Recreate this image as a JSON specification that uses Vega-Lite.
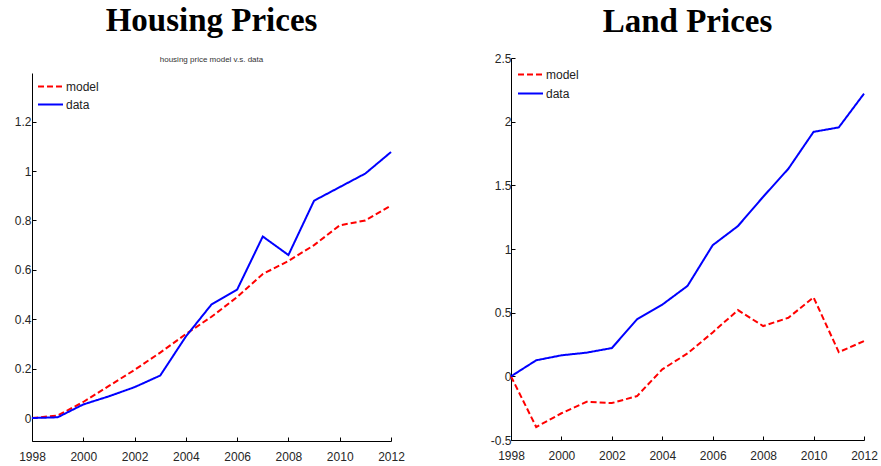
{
  "$schema": "https://vega.github.io/schema/vega-lite/v6.json",
  "background": "white",
  "padding": {"left": 14, "top": 5, "right": 0, "bottom": 0},
  "bounds": "flush",
  "spacing": 120,
  "config": {
    "view": {"stroke": null},
    "axis": {
      "grid": false,
      "domainColor": "black",
      "domainWidth": 1,
      "tickColor": "black",
      "tickSize": -4,
      "tickWidth": 1,
      "labelFont": "Liberation Sans",
      "labelFontSize": 12,
      "labelColor": "#262626",
      "title": null
    },
    "legend": {
      "orient": "none",
      "title": null,
      "padding": 0,
      "symbolType": "M-2,0L2,0",
      "symbolSize": 156.25,
      "symbolStrokeWidth": 2,
      "labelFont": "Liberation Sans",
      "labelFontSize": 12,
      "labelColor": "#222222",
      "labelOffset": 8
    }
  },
  "resolve": {
    "scale": {"color": "independent", "strokeDash": "independent"},
    "legend": {"color": "independent", "strokeDash": "independent"}
  },
  "hconcat": [
    {
      "width": 359,
      "height": 383,
      "title": {
        "text": "Housing Prices",
        "subtitle": "housing price model v.s. data",
        "font": "Liberation Serif",
        "fontSize": 33,
        "fontWeight": "bold",
        "color": "black",
        "subtitleFont": "Liberation Sans",
        "subtitleFontSize": 8,
        "subtitleColor": "#333333",
        "subtitlePadding": 18,
        "offset": -6,
        "anchor": "middle"
      },
      "data": {
        "values": [
          {"year": 1998, "series": "model", "value": 0},
          {"year": 1999, "series": "model", "value": 0.01},
          {"year": 2000, "series": "model", "value": 0.065},
          {"year": 2001, "series": "model", "value": 0.13},
          {"year": 2002, "series": "model", "value": 0.195},
          {"year": 2003, "series": "model", "value": 0.265},
          {"year": 2004, "series": "model", "value": 0.34},
          {"year": 2005, "series": "model", "value": 0.41},
          {"year": 2006, "series": "model", "value": 0.49},
          {"year": 2007, "series": "model", "value": 0.583},
          {"year": 2008, "series": "model", "value": 0.636},
          {"year": 2009, "series": "model", "value": 0.70},
          {"year": 2010, "series": "model", "value": 0.78},
          {"year": 2011, "series": "model", "value": 0.80},
          {"year": 2012, "series": "model", "value": 0.86},
          {"year": 1998, "series": "data", "value": 0},
          {"year": 1999, "series": "data", "value": 0.003},
          {"year": 2000, "series": "data", "value": 0.055},
          {"year": 2001, "series": "data", "value": 0.088},
          {"year": 2002, "series": "data", "value": 0.125},
          {"year": 2003, "series": "data", "value": 0.172},
          {"year": 2004, "series": "data", "value": 0.33},
          {"year": 2005, "series": "data", "value": 0.46},
          {"year": 2006, "series": "data", "value": 0.52},
          {"year": 2007, "series": "data", "value": 0.735},
          {"year": 2008, "series": "data", "value": 0.66},
          {"year": 2009, "series": "data", "value": 0.88},
          {"year": 2010, "series": "data", "value": 0.935},
          {"year": 2011, "series": "data", "value": 0.99},
          {"year": 2012, "series": "data", "value": 1.077}
        ]
      },
      "mark": {"type": "line", "strokeWidth": 2},
      "encoding": {
        "x": {
          "field": "year", "type": "quantitative",
          "scale": {"domain": [1998, 2012], "nice": false, "zero": false},
          "axis": {"values": [1998, 2000, 2002, 2004, 2006, 2008, 2010, 2012], "format": "d", "labelPadding": 14, "labelFlush": false}
        },
        "y": {
          "field": "value", "type": "quantitative",
          "scale": {"domain": [-0.093, 1.397], "range": [383, 15], "nice": false, "zero": false},
          "axis": {"values": [0, 0.2, 0.4, 0.6, 0.8, 1, 1.2], "labelPadding": 5, "labelExpr": "format(datum.value, '~g')"}
        },
        "color": {
          "field": "series", "type": "nominal",
          "scale": {"domain": ["model", "data"], "range": ["#ff0000", "#0000ff"]},
          "legend": {"legendX": 11, "legendY": 21, "rowPadding": 4}
        },
        "strokeDash": {
          "field": "series", "type": "nominal",
          "scale": {"domain": ["model", "data"], "range": [[6, 3], [1, 0]]},
          "legend": {"legendX": 11, "legendY": 21, "rowPadding": 4}
        }
      }
    },
    {
      "width": 353,
      "height": 382,
      "title": {
        "text": "Land Prices",
        "font": "Liberation Serif",
        "fontSize": 33,
        "fontWeight": "bold",
        "color": "black",
        "offset": 13,
        "anchor": "middle"
      },
      "data": {
        "values": [
          {"year": 1998, "series": "model", "value": 0},
          {"year": 1999, "series": "model", "value": -0.398},
          {"year": 2000, "series": "model", "value": -0.29},
          {"year": 2001, "series": "model", "value": -0.2},
          {"year": 2002, "series": "model", "value": -0.21},
          {"year": 2003, "series": "model", "value": -0.155},
          {"year": 2004, "series": "model", "value": 0.055},
          {"year": 2005, "series": "model", "value": 0.18},
          {"year": 2006, "series": "model", "value": 0.345},
          {"year": 2007, "series": "model", "value": 0.52},
          {"year": 2008, "series": "model", "value": 0.395},
          {"year": 2009, "series": "model", "value": 0.46},
          {"year": 2010, "series": "model", "value": 0.62},
          {"year": 2011, "series": "model", "value": 0.19},
          {"year": 2012, "series": "model", "value": 0.277},
          {"year": 1998, "series": "data", "value": 0},
          {"year": 1999, "series": "data", "value": 0.126},
          {"year": 2000, "series": "data", "value": 0.165},
          {"year": 2001, "series": "data", "value": 0.186},
          {"year": 2002, "series": "data", "value": 0.222},
          {"year": 2003, "series": "data", "value": 0.448},
          {"year": 2004, "series": "data", "value": 0.563},
          {"year": 2005, "series": "data", "value": 0.71},
          {"year": 2006, "series": "data", "value": 1.03},
          {"year": 2007, "series": "data", "value": 1.18},
          {"year": 2008, "series": "data", "value": 1.41},
          {"year": 2009, "series": "data", "value": 1.63},
          {"year": 2010, "series": "data", "value": 1.92},
          {"year": 2011, "series": "data", "value": 1.955},
          {"year": 2012, "series": "data", "value": 2.22}
        ]
      },
      "mark": {"type": "line", "strokeWidth": 2},
      "encoding": {
        "x": {
          "field": "year", "type": "quantitative",
          "scale": {"domain": [1998, 2012], "nice": false, "zero": false},
          "axis": {"values": [1998, 2000, 2002, 2004, 2006, 2008, 2010, 2012], "format": "d", "labelPadding": 14, "labelFlush": false}
        },
        "y": {
          "field": "value", "type": "quantitative",
          "scale": {"domain": [-0.5, 2.5], "nice": false, "zero": false},
          "axis": {
            "values": [-0.5, 0, 0.5, 1, 1.5, 2, 2.5],
            "labelPadding": 4,
            "labelExpr": "datum.value < 0 ? '-' + format(-datum.value, '~g') : format(datum.value, '~g')"
          }
        },
        "color": {
          "field": "series", "type": "nominal",
          "scale": {"domain": ["model", "data"], "range": ["#ff0000", "#0000ff"]},
          "legend": {"legendX": 12, "legendY": 9, "rowPadding": 5}
        },
        "strokeDash": {
          "field": "series", "type": "nominal",
          "scale": {"domain": ["model", "data"], "range": [[6, 3], [1, 0]]},
          "legend": {"legendX": 12, "legendY": 9, "rowPadding": 5}
        }
      }
    }
  ]
}
